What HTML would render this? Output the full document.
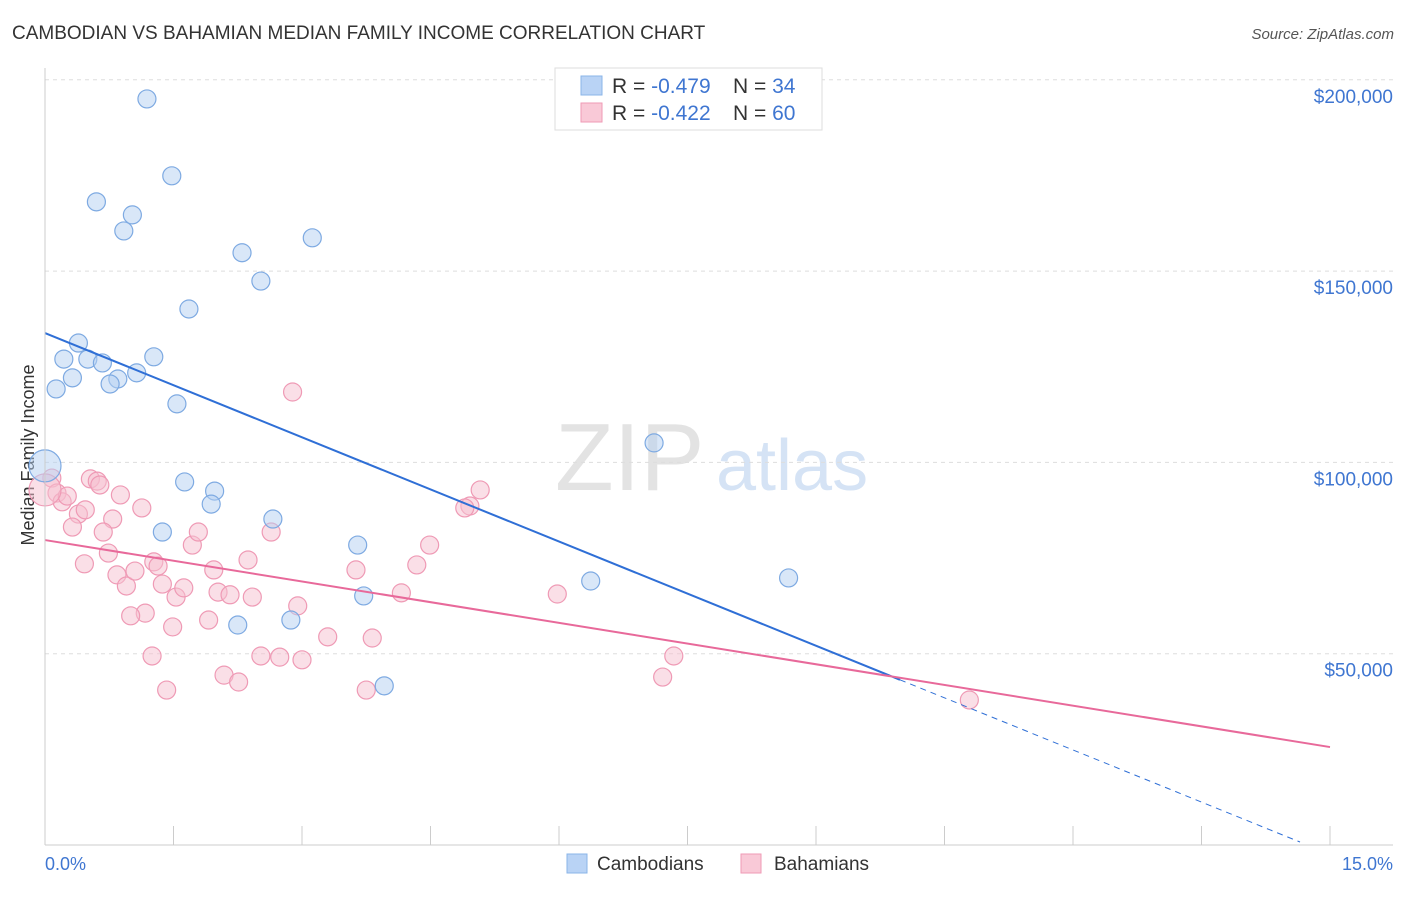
<!DOCTYPE html>
<html><head><meta charset="utf-8"><style>
body{margin:0;background:#fff;font-family:"Liberation Sans",sans-serif;}
svg text{font-family:"Liberation Sans",sans-serif;}
</style></head><body>
<svg id="chart" width="1406" height="892">
<text x="12" y="39" font-size="19" fill="#333">CAMBODIAN VS BAHAMIAN MEDIAN FAMILY INCOME CORRELATION CHART</text>
<text x="1394" y="39" font-size="15" fill="#555" font-style="italic" text-anchor="end">Source: ZipAtlas.com</text>
<text x="34" y="455" font-size="18" fill="#333" transform="rotate(-90 34 455)" text-anchor="middle">Median Family Income</text>
<text x="555" y="490" font-size="96" fill="#e3e3e3" font-family="Liberation Serif">ZIP</text>
<text x="716" y="490" font-size="72" fill="#d5e3f5">atlas</text>
<g id="grid"></g><g id="pts"></g><g id="lines"></g>
<line x1="45" y1="845" x2="1393" y2="845" stroke="#ccc"/>
<line x1="45" y1="68" x2="45" y2="845" stroke="#ccc"/>
<text x="45" y="870" font-size="18" fill="#3f76d1">0.0%</text>
<text x="1393" y="870" font-size="18" fill="#3f76d1" text-anchor="end">15.0%</text>
<g>
<rect x="555" y="68" width="267" height="62" fill="#fff" stroke="#ddd"/>
<rect x="581" y="76" width="21" height="19" fill="#b9d3f5" stroke="#8ab4e8"/>
<rect x="581" y="103" width="21" height="19" fill="#f9c9d7" stroke="#ef9ab5"/>
<text x="612" y="93" font-size="21" fill="#333">R = <tspan fill="#3f76d1">-0.479</tspan><tspan x="733">N = </tspan><tspan fill="#3f76d1">34</tspan></text>
<text x="612" y="120" font-size="21" fill="#333">R = <tspan fill="#3f76d1">-0.422</tspan><tspan x="733">N = </tspan><tspan fill="#3f76d1">60</tspan></text>
</g>
<g>
<rect x="567" y="854" width="20" height="19" fill="#b9d3f5" stroke="#8ab4e8"/>
<text x="597" y="870" font-size="19" fill="#333">Cambodians</text>
<rect x="741" y="854" width="20" height="19" fill="#f9c9d7" stroke="#ef9ab5"/>
<text x="774" y="870" font-size="19" fill="#333">Bahamians</text>
</g>
</svg>
<script>
const yTicks=[50000,100000,150000,200000];
const yTickLabels=["$50,000","$100,000","$150,000","$200,000"];
const xTicks=[0,1.5,3,4.5,6,7.5,9,10.5,12,13.5,15];
const blueX=[1.19,1.48,0.60,1.02,0.92,3.12,2.30,2.52,1.68,0.39,0.22,0.50,0.67,1.27,0.32,0.85,0.76,1.07,0.13,1.54,7.11,0,1.63,1.98,1.94,2.66,1.37,3.65,6.37,8.68,3.72,2.25,2.87,3.96];
const blueY=[195.0,174.9,168.1,164.7,160.5,158.7,154.8,147.4,140.1,131.2,127.0,127.0,126.0,127.6,122.1,121.8,120.5,123.4,119.2,115.3,105.1,99.1,94.9,92.5,89.1,85.2,81.8,78.4,69.0,69.8,65.1,57.5,58.8,41.6];
const pinkX=[2.89,5.08,4.96,4.90,0.08,0.14,0.20,0.26,0.53,0.61,0.88,1.13,0.39,0.32,0.79,0.68,0.74,0.46,0.84,0.95,1.05,1.27,1.32,1.37,1.53,1.62,1.72,1.79,1.97,2.02,2.16,2.42,2.37,2.64,1.91,1.17,1.00,1.49,2.95,3.63,4.34,4.49,4.16,5.98,3.30,3.82,1.25,2.52,2.74,3.00,7.34,7.21,1.42,2.09,2.26,3.75,10.79,0,0.47,0.64];
const pinkY=[118.4,92.8,88.6,88.1,95.9,92.0,89.7,91.2,95.7,95.1,91.5,88.1,86.5,83.1,85.2,81.8,76.3,73.5,70.6,67.7,71.6,74.0,72.9,68.2,64.8,67.2,78.4,81.8,71.9,66.1,65.4,64.8,74.5,81.8,58.8,60.6,59.9,57.0,62.5,71.9,73.2,78.4,65.9,65.6,54.4,54.1,49.4,49.4,49.1,48.4,49.4,43.9,40.5,44.4,42.6,40.5,37.9,92.8,87.6,94.1];
const blueLine=[133.8,-9.08];const pinkLine=[79.7,-3.607];
const NS="http://www.w3.org/2000/svg";
const sx=v=>45+v*1285/15, sy=v=>845-v*191.3/50;
function mk(t,a,p){const e=document.createElementNS(NS,t);for(const k in a)e.setAttribute(k,a[k]);p.appendChild(e);return e;}
const grid=document.getElementById('grid');
yTicks.forEach((t,i)=>{const y=sy(t/1000);
const l=mk('line',{x1:45,x2:1393,y1:y,y2:y,stroke:'#ddd','stroke-dasharray':'4,4'},grid);


const tx=mk('text',{x:1393,y:y+23,'font-size':19,fill:'#3f76d1','text-anchor':'end'},grid);tx.textContent=yTickLabels[i];

});
xTicks.forEach(t=>{const x=sx(t);const l=mk('line',{x1:x,x2:x,y1:826,y2:845,stroke:'#ccc'},grid);

});
const pts=document.getElementById('pts');
function dot(x,y,big,fill,st,name){const c=mk('circle',{cx:sx(x),cy:sy(y),r:big?16:9,fill:fill,'fill-opacity':0.5,stroke:st,'stroke-width':1.2},pts);

}
pinkX.forEach((x,i)=>dot(x,pinkY[i],i==57,'#f6bfd0','#ef9ab5','bahamian-point'));
blueX.forEach((x,i)=>dot(x,blueY[i],i==21,'#b3d0f2','#7eaae2','cambodian-point'));
const lines=document.getElementById('lines');
const bEnd=9.98, bf=x=>blueLine[0]+blueLine[1]*x;
let l1=mk('line',{x1:sx(0),y1:sy(bf(0)),x2:sx(bEnd),y2:sy(bf(bEnd)),stroke:'#2f6fd6','stroke-width':2},lines);


let l2=mk('line',{x1:sx(bEnd),y1:sy(bf(bEnd)),x2:sx(14.65),y2:sy(bf(14.65)),stroke:'#2f6fd6','stroke-width':1,'stroke-dasharray':'6,5'},lines);


const pf=x=>pinkLine[0]+pinkLine[1]*x;
let l3=mk('line',{x1:sx(0),y1:sy(pf(0)),x2:sx(15),y2:sy(pf(15)),stroke:'#e8699a','stroke-width':2},lines);


</script>
</body></html>
